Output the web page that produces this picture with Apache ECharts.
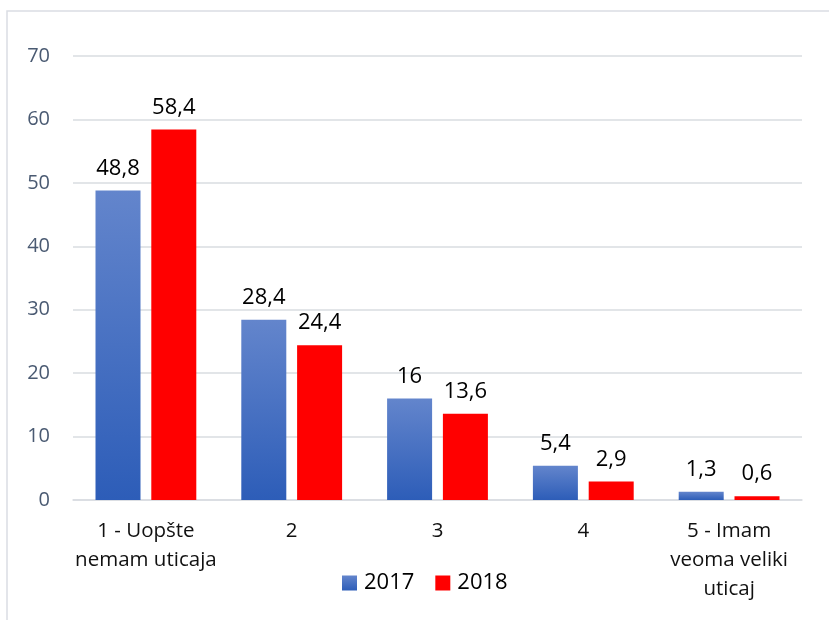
<!DOCTYPE html>
<html>
<head>
<meta charset="utf-8">
<script src="https://cdn.jsdelivr.net/npm/echarts@6/dist/echarts.min.js"></script>
<style>
  html, body { margin: 0; padding: 0; background: #fff; }
  #chart { width: 829px; height: 620px; }
</style>
</head>
<body>
<div id="chart"></div>
<script>
const categories = ['1 - Uopšte\nnemam uticaja', '2', '3', '4', '5 - Imam\nveoma veliki\nuticaj']
const values2017 = [48.8, 28.4, 16, 5.4, 1.3]
const values2018 = [58.4, 24.4, 13.6, 2.9, 0.6]
const seriesNames = ['2017', '2018']

const font = '"Open Sans", sans-serif'

const chart = echarts.init(document.getElementById('chart'))

const labelStyle = {
  show: true,
  position: 'top',
  distance: 11,
  color: '#000',
  fontSize: 22,
  fontFamily: font,
  formatter: p => String(p.value).replace('.', ',')
}

chart.setOption({
  animation: false,
  textStyle: { fontFamily: font },
  graphic: [{
    type: 'rect',
    shape: { x: 7, y: 11, width: 900, height: 700 },
    style: { fill: 'none', stroke: '#dadde3', lineWidth: 1.5 },
    silent: true
  }],
  grid: {
    left: 73,
    right: 27,
    top: 56,
    bottom: 120
  },
  legend: {
    data: seriesNames,
    left: 342,
    top: 572,
    padding: 0,
    itemWidth: 15,
    itemHeight: 15,
    itemGap: 21,
    icon: 'rect',
    textStyle: { color: '#000', fontSize: 22, fontFamily: font, padding: [0, 0, 0, 2] }
  },
  xAxis: {
    type: 'category',
    data: categories,
    axisLine: { lineStyle: { color: '#d9dce1', width: 1.5 } },
    axisTick: { show: false },
    axisLabel: {
      color: '#111',
      fontSize: 20.5,
      fontFamily: font,
      lineHeight: 29,
      margin: 17,
      interval: 0
    }
  },
  yAxis: {
    type: 'value',
    min: 0,
    max: 70,
    interval: 10,
    axisLine: { show: false },
    axisTick: { show: false },
    splitLine: { lineStyle: { color: '#d9dce1', width: 1.5 } },
    axisLabel: {
      color: '#4a5a72',
      fontSize: 20,
      fontFamily: font,
      margin: 23
    }
  },
  series: [
    {
      name: seriesNames[0],
      type: 'bar',
      data: values2017,
      barWidth: 45,
      barGap: '24%',
      itemStyle: {
        color: new echarts.graphic.LinearGradient(0, 0, 0, 1, [
          { offset: 0, color: '#6385cc' },
          { offset: 1, color: '#2d5db8' }
        ])
      },
      label: labelStyle
    },
    {
      name: seriesNames[1],
      type: 'bar',
      data: values2018,
      barWidth: 45,
      itemStyle: { color: '#ff0000' },
      label: labelStyle
    }
  ]
})
</script>
</body>
</html>
